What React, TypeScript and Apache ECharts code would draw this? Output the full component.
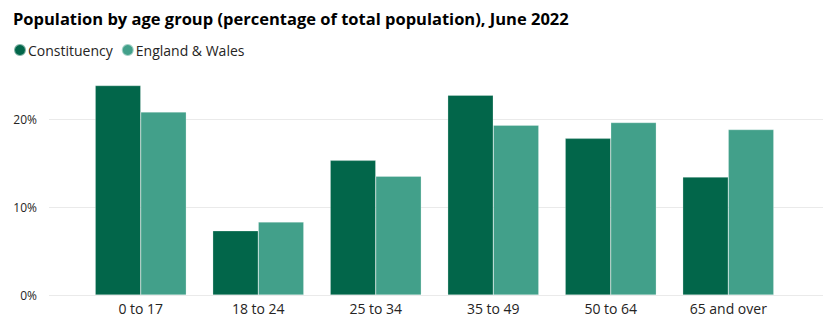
import React, { useEffect, useRef } from "react";
import * as echarts from "echarts";

const categories = ["0 to 17", "18 to 24", "25 to 34", "35 to 49", "50 to 64", "65 and over"];
const constituency = [23.8, 7.3, 15.3, 22.7, 17.8, 13.4];
const englandWales = [20.8, 8.3, 13.5, 19.3, 19.6, 18.8];
const gridValues = [0, 10, 20];

const FONT = "'Open Sans', 'Noto Sans', sans-serif";

export default function App() {
  const ref = useRef<HTMLDivElement>(null);
  useEffect(() => {
    if (!ref.current) return;
    const chart = echarts.init(ref.current, undefined, { renderer: "svg" });
    chart.setOption({
      animation: false,
      textStyle: { fontFamily: FONT },
      title: {
        text: "Population by age group (percentage of total population), June 2022",
        left: 0,
        top: 1,
        padding: [0, 5, 0, 5],
        textStyle: { fontSize: 16.5, lineHeight: 18, fontWeight: "bold", color: "#000", fontFamily: FONT },
      },
      legend: {
        data: ["Constituency", "England & Wales"],
        left: 0,
        top: 30,
        icon: "circle",
        itemWidth: 12,
        itemHeight: 12,
        itemGap: 8,
        textStyle: { fontSize: 14, color: "#252423", padding: [0, 0, 0, -3] },
      },
      grid: [
        { left: 41, right: 13, top: 67, bottom: 32 },
        { left: 74, right: 49, top: 67, bottom: 32 },
      ],
      xAxis: [
        { type: "category", gridIndex: 0, data: [""], show: false },
        {
          type: "category",
          gridIndex: 1,
          data: categories,
          axisLine: { show: false },
          axisTick: { show: false },
          axisLabel: { fontSize: 14, color: "#252423", margin: 6 },
        },
      ],
      yAxis: [
        {
          type: "value",
          gridIndex: 0,
          min: 0,
          max: 25,
          interval: 10,
          splitLine: { show: false },
          axisLine: { show: false },
          axisTick: { show: false },
          axisLabel: {
            fontSize: 12,
            color: "#252423",
            margin: 12,
            formatter: (v: number) => (v % 10 === 0 ? v + "%" : ""),
          },
        },
        { type: "value", gridIndex: 1, min: 0, max: 25, show: false },
      ],
      series: [
        {
          type: "line",
          xAxisIndex: 0,
          yAxisIndex: 0,
          data: [null],
          silent: true,
          z: 0,
          markLine: {
            silent: true,
            symbol: "none",
            z: 0,
            label: { show: false },
            lineStyle: { color: "#EAEAEA", type: "solid", width: 1 },
            data: gridValues.map((v) => ({ yAxis: v })),
          },
        },
        {
          name: "Constituency",
          type: "bar",
          xAxisIndex: 1,
          yAxisIndex: 1,
          z: 5,
          data: constituency,
          barGap: "0%",
          barCategoryGap: "22.5%",
          itemStyle: { color: "#02664A", borderColor: "rgba(255,255,255,0.5)", borderWidth: 0.5 },
        },
        {
          name: "England & Wales",
          type: "bar",
          xAxisIndex: 1,
          yAxisIndex: 1,
          z: 5,
          data: englandWales,
          barGap: "0%",
          barCategoryGap: "22.5%",
          itemStyle: { color: "#42A08A", borderColor: "rgba(255,255,255,0.5)", borderWidth: 0.5 },
        },
      ],
    });
    return () => chart.dispose();
  }, []);
  return <div ref={ref} style={{ width: 828, height: 319 }} />;
}
